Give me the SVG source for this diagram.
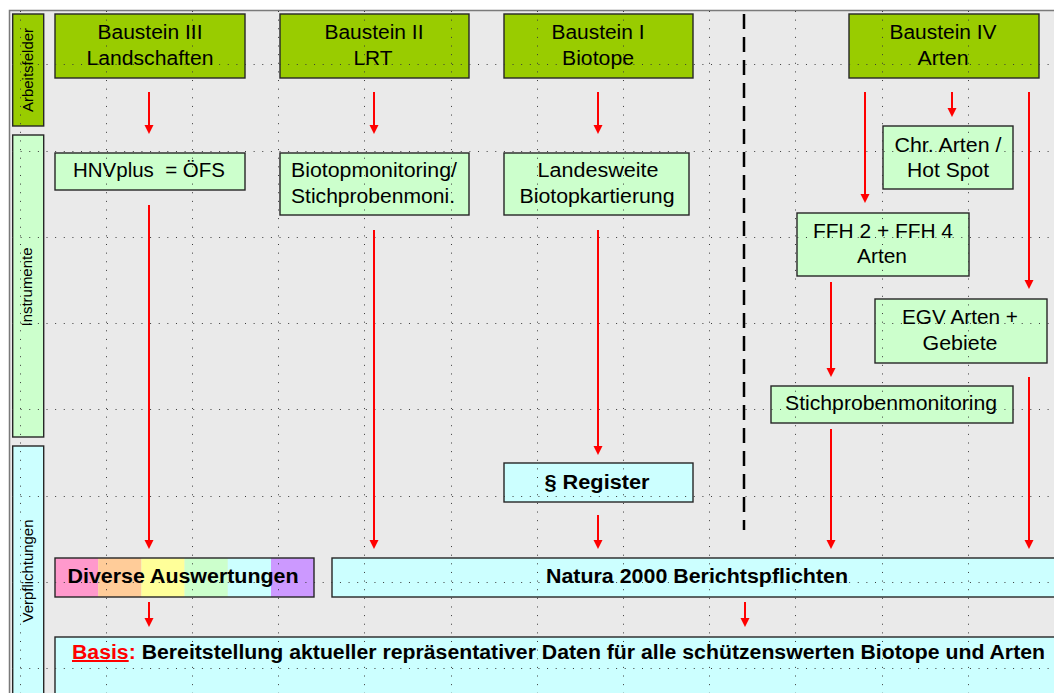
<svg xmlns="http://www.w3.org/2000/svg" width="1054" height="693" viewBox="0 0 1054 693">
<defs>
<style>
.t{font-family:"Liberation Sans",Arial,sans-serif;font-size:20px;text-anchor:middle;fill:#000}
.b{font-weight:bold}
.side{font-size:14px}
.box{stroke:#262626;stroke-width:1.4}
.g1{fill:#99CC00}
.g2{fill:#CCFFCC}
.cy{fill:#CCFFFF}
.grid{stroke:#3a3a3a;stroke-width:1;stroke-dasharray:1 7.63;fill:none}
.arr{stroke:#FF0000;stroke-width:2;fill:none;marker-end:url(#ah)}
</style>
<marker id="ah" viewBox="0 0 10 10" markerUnits="userSpaceOnUse" markerWidth="9" markerHeight="10" refX="5.5" refY="5" orient="auto">
<path d="M0,0 L10,5 L0,10 z" fill="#FF0000"/>
</marker>
</defs>
<rect x="0" y="0" width="1054" height="693" fill="#FFFFFF"/>
<rect x="10" y="11" width="1044" height="682" fill="#EAEAEA"/>
<path d="M9.5,693 V10.5 H1054" stroke="#7a7a7a" stroke-width="1.5" fill="none"/>

<g id="side-arbeitsfelder"><rect class="box g1" x="12.7" y="14" width="31" height="112"/></g>
<g id="side-instrumente"><rect class="box g2" x="12.7" y="135" width="31" height="302"/></g>
<g id="side-verpflichtungen"><rect class="box cy" x="12.7" y="446" width="31" height="260"/></g>

<g id="b3"><rect class="box g1" x="55" y="14" width="190" height="64"/></g>
<g id="b2"><rect class="box g1" x="280" y="14" width="189" height="64"/></g>
<g id="b1"><rect class="box g1" x="504" y="14" width="189" height="64"/></g>
<g id="b4"><rect class="box g1" x="849" y="14" width="190" height="64"/></g>

<g id="hnv"><rect class="box g2" x="55" y="153" width="190" height="37"/></g>
<g id="biomon"><rect class="box g2" x="280" y="153" width="189" height="62"/></g>
<g id="landes"><rect class="box g2" x="504" y="153" width="185" height="62"/></g>
<g id="chr"><rect class="box g2" x="883" y="126" width="130" height="63"/></g>
<g id="ffh"><rect class="box g2" x="797" y="213" width="172" height="63"/></g>
<g id="egv"><rect class="box g2" x="875" y="299" width="172" height="64"/></g>
<g id="stich"><rect class="box g2" x="771" y="386" width="242" height="37"/></g>
<g id="register"><rect class="box cy" x="504" y="463" width="189" height="39"/></g>
<g id="diverse">
<rect x="55" y="558" width="43.2" height="39" fill="#FF99CC"/>
<rect x="98.2" y="558" width="43.2" height="39" fill="#FFCC99"/>
<rect x="141.4" y="558" width="43.2" height="39" fill="#FFFF99"/>
<rect x="184.6" y="558" width="43.2" height="39" fill="#CCFFCC"/>
<rect x="227.8" y="558" width="43.2" height="39" fill="#CCFFFF"/>
<rect x="271" y="558" width="43" height="39" fill="#CC99FF"/>
<rect class="box" x="55" y="558" width="259" height="39" fill="none"/>
</g>
<g id="natura"><rect class="box cy" x="332" y="558" width="730" height="39"/></g>
<g id="basis"><rect class="box cy" x="55" y="637" width="1010" height="70"/></g>

<g id="grid">
<path class="grid" d="M20.5,11V693 M106.5,11V693 M192.5,11V693 M278.5,11V693 M364.5,11V693 M451.5,11V693 M537.5,11V693 M623.5,11V693 M709.5,11V693 M795.5,11V693 M882.5,11V693 M968.5,11V693"/>
<path class="grid" d="M12,64.5H1054 M12,151.5H1054 M12,237.5H1054 M12,323.5H1054 M12,409.5H1054 M12,496.5H1054 M12,582.5H1054 M12,668.5H1054"/>
</g>

<line x1="744" y1="14" x2="744" y2="530" stroke="#000" stroke-width="2.5" stroke-dasharray="15 8"/>

<g id="connectors">
<line class="arr" x1="149" y1="92" x2="149" y2="130"/>
<line class="arr" x1="374" y1="92" x2="374" y2="130"/>
<line class="arr" x1="598" y1="92" x2="598" y2="130"/>
<line class="arr" x1="865" y1="92" x2="865" y2="199"/>
<line class="arr" x1="952" y1="92" x2="952" y2="113"/>
<line class="arr" x1="1029" y1="92" x2="1029" y2="285"/>
<line class="arr" x1="149" y1="205" x2="149" y2="545"/>
<line class="arr" x1="374" y1="230" x2="374" y2="545"/>
<line class="arr" x1="598" y1="230" x2="598" y2="451"/>
<line class="arr" x1="598" y1="515" x2="598" y2="545"/>
<line class="arr" x1="831" y1="282" x2="831" y2="373"/>
<line class="arr" x1="1029" y1="377" x2="1029" y2="545"/>
<line class="arr" x1="831" y1="429" x2="831" y2="545"/>
<line class="arr" x1="149" y1="602" x2="149" y2="623"/>
<line class="arr" x1="745" y1="602" x2="745" y2="623"/>
</g>

<g id="labels">
<text class="t side" transform="translate(33,70) rotate(-90)" textLength="84" lengthAdjust="spacingAndGlyphs">Arbeitsfelder</text>
<text class="t side" transform="translate(32,287) rotate(-90)" textLength="79" lengthAdjust="spacingAndGlyphs">Instrumente</text>
<text class="t side" transform="translate(33,571) rotate(-90)" textLength="103" lengthAdjust="spacingAndGlyphs">Verpflichtungen</text>

<text class="t" x="150" y="39" textLength="105" lengthAdjust="spacingAndGlyphs">Baustein III</text>
<text class="t" x="150" y="65" textLength="127" lengthAdjust="spacingAndGlyphs">Landschaften</text>
<text class="t" x="374" y="39" textLength="99" lengthAdjust="spacingAndGlyphs">Baustein II</text>
<text class="t" x="373" y="65" textLength="39" lengthAdjust="spacingAndGlyphs">LRT</text>
<text class="t" x="598" y="39" textLength="93" lengthAdjust="spacingAndGlyphs">Baustein I</text>
<text class="t" x="598" y="65" textLength="72" lengthAdjust="spacingAndGlyphs">Biotope</text>
<text class="t" x="943" y="39" textLength="107" lengthAdjust="spacingAndGlyphs">Baustein IV</text>
<text class="t" x="943" y="65" textLength="51" lengthAdjust="spacingAndGlyphs">Arten</text>

<text class="t" x="149" y="177" textLength="152" lengthAdjust="spacingAndGlyphs" xml:space="preserve">HNVplus  = ÖFS</text>
<text class="t" x="374" y="177" textLength="166" lengthAdjust="spacingAndGlyphs">Biotopmonitoring/</text>
<text class="t" x="373" y="203" textLength="164" lengthAdjust="spacingAndGlyphs">Stichprobenmoni.</text>
<text class="t" x="598" y="177" textLength="121" lengthAdjust="spacingAndGlyphs">Landesweite</text>
<text class="t" x="597" y="203" textLength="155" lengthAdjust="spacingAndGlyphs">Biotopkartierung</text>
<text class="t" x="948" y="152" textLength="107" lengthAdjust="spacingAndGlyphs">Chr. Arten /</text>
<text class="t" x="948" y="177" textLength="82" lengthAdjust="spacingAndGlyphs">Hot Spot</text>
<text class="t" x="883" y="238" textLength="140" lengthAdjust="spacingAndGlyphs">FFH 2 + FFH 4</text>
<text class="t" x="882" y="263" textLength="50" lengthAdjust="spacingAndGlyphs">Arten</text>
<text class="t" x="960" y="324" textLength="116" lengthAdjust="spacingAndGlyphs">EGV Arten +</text>
<text class="t" x="960" y="350" textLength="75" lengthAdjust="spacingAndGlyphs">Gebiete</text>
<text class="t" x="891" y="410" textLength="212" lengthAdjust="spacingAndGlyphs">Stichprobenmonitoring</text>
<text class="t b" x="597" y="489" textLength="105" lengthAdjust="spacingAndGlyphs">§ Register</text>
<text class="t b" x="183" y="583" textLength="231" lengthAdjust="spacingAndGlyphs">Diverse Auswertungen</text>
<text class="t b" x="697" y="583" textLength="302" lengthAdjust="spacingAndGlyphs">Natura 2000 Berichtspflichten</text>
<text class="t b" x="72" y="659" style="text-anchor:start" textLength="973" lengthAdjust="spacingAndGlyphs"><tspan fill="#FF0000" text-decoration="underline">Basis</tspan><tspan fill="#FF0000">:</tspan> Bereitstellung aktueller repräsentativer Daten für alle schützenswerten Biotope und Arten</text>
</g>
</svg>
